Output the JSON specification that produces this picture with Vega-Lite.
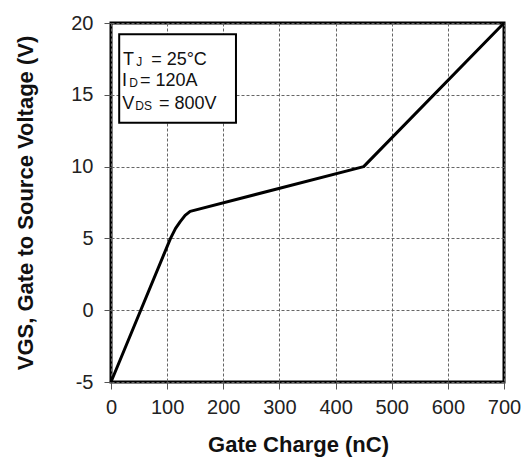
{
  "$schema": "https://vega.github.io/schema/vega-lite/v6.json",
  "width": 393,
  "height": 359,
  "autosize": "none",
  "padding": {"left": 111, "top": 23, "right": 25, "bottom": 78},
  "background": "white",
  "config": {
    "font": "Liberation Sans",
    "view": {"stroke": "black", "strokeWidth": 3},
    "axis": {
      "domain": false,
      "grid": true,
      "gridColor": "#666666",
      "gridDash": [3, 2],
      "gridWidth": 1,
      "gridOpacity": 1,
      "ticks": true,
      "tickSize": 7,
      "tickColor": "#555555",
      "tickWidth": 1,
      "labelFlush": false,
      "labelOverlap": false,
      "labelFont": "Liberation Sans",
      "labelFontSize": 20,
      "labelColor": "#222222",
      "titleFont": "Liberation Sans",
      "titleFontSize": 22,
      "titleFontWeight": "bold",
      "titleColor": "#111111"
    }
  },
  "layer": [
    {
      "data": {
        "values": [
          {"q": 0, "v": -5},
          {"q": 106, "v": 5},
          {"q": 115, "v": 5.7},
          {"q": 123, "v": 6.15},
          {"q": 132, "v": 6.6},
          {"q": 141, "v": 6.88},
          {"q": 450, "v": 10},
          {"q": 700, "v": 20}
        ]
      },
      "mark": {"type": "line", "color": "black", "strokeWidth": 3, "strokeJoin": "round"},
      "encoding": {
        "x": {
          "field": "q", "type": "quantitative",
          "scale": {"domain": [0, 700], "nice": false},
          "axis": {"values": [0, 100, 200, 300, 400, 500, 600, 700], "labelPadding": 8, "titlePadding": 17, "titleX": 187},
          "title": "Gate Charge (nC)"
        },
        "y": {
          "field": "v", "type": "quantitative",
          "scale": {"domain": [-5, 20], "nice": false},
          "axis": {"values": [-5, 0, 5, 10, 15, 20], "labelPadding": 11, "titlePadding": 33, "labelExpr": "replace(datum.label, '−', '-')"},
          "title": "VGS, Gate to Source Voltage (V)"
        }
      }
    },
    {
      "data": {"values": [{"x1": 14.6, "x2": 222.6, "y1": 13.06, "y2": 19.21}]},
      "mark": {"type": "rect", "fill": "white", "stroke": "black", "strokeWidth": 2},
      "encoding": {
        "x": {"field": "x1", "type": "quantitative"},
        "x2": {"field": "x2"},
        "y": {"field": "y1", "type": "quantitative"},
        "y2": {"field": "y2"}
      }
    },
    {
      "data": {
        "values": [
          {"x": 21.5, "y": 17.054, "t": "T"},
          {"x": 71.5, "y": 17.054, "t": "= 25°C"},
          {"x": 19.5, "y": 15.592, "t": "I"},
          {"x": 51.5, "y": 15.592, "t": "= 120A"},
          {"x": 20, "y": 13.99, "t": "V"},
          {"x": 85.5, "y": 13.99, "t": "= 800V"}
        ]
      },
      "mark": {"type": "text", "align": "left", "baseline": "alphabetic", "fontSize": 18, "color": "#111111"},
      "encoding": {
        "x": {"field": "x", "type": "quantitative"},
        "y": {"field": "y", "type": "quantitative"},
        "text": {"field": "t"}
      }
    },
    {
      "data": {
        "values": [
          {"x": 45, "y": 17.054, "t": "J"},
          {"x": 32.6, "y": 15.592, "t": "D"},
          {"x": 43.3, "y": 13.99, "t": "DS"}
        ]
      },
      "mark": {"type": "text", "align": "left", "baseline": "alphabetic", "fontSize": 12, "dy": 1, "color": "#111111"},
      "encoding": {
        "x": {"field": "x", "type": "quantitative"},
        "y": {"field": "y", "type": "quantitative"},
        "text": {"field": "t"}
      }
    }
  ]
}
